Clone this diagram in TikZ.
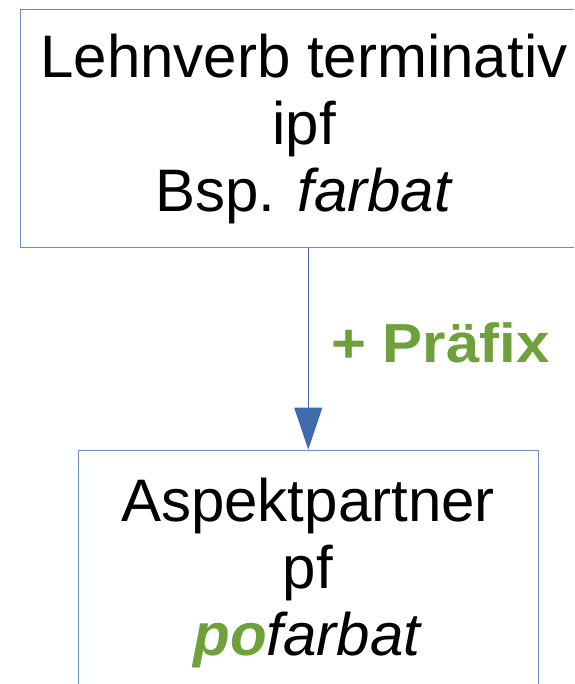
\documentclass[tikz,border=0pt]{standalone}
\usepackage{fontspec}
\setmainfont{Liberation Sans}
\usetikzlibrary{arrows.meta}
\definecolor{boxblue}{HTML}{6A8CC8}
\definecolor{arrowblue}{HTML}{3E6BAC}
\definecolor{pgreen}{HTML}{6FA03C}
\tikzset{
  boxnode/.style={draw=boxblue, line width=1pt, fill=none, inner sep=0pt},
  bigtext/.style={inner sep=0pt, anchor=base, font=\fontsize{60}{67}\selectfont},
  conn/.style={draw=arrowblue, line width=1pt, -{Triangle[width=28pt,length=42pt,fill=arrowblue]}},
  lbl/.style={inner sep=0pt, anchor=base west, text=pgreen, xscale=1.09, transform shape, font=\fontsize{55}{60}\selectfont\bfseries}
}
\begin{document}
\begin{tikzpicture}[x=1pt,y=-1pt]
\useasboundingbox (0,0) rectangle (574,684);
\clip (0,0) rectangle (574,684);
\fill[white] (0,0) rectangle (574,684);
\node[boxnode, minimum width=567.5pt, minimum height=238.5pt] (top) at (304.25,128.75) {};
\node[boxnode, minimum width=459.5pt, minimum height=260pt] (bot) at (308.25,580) {};
\node[bigtext] (t1) at (304,78) {Lehnverb terminativ};
\node[bigtext] (t2) at (304,145) {ipf};
\node[bigtext] (t3) at (304,212) {Bsp. \textit{farbat}};
\node[bigtext] (b1) at (308,521) {Aspektpartner};
\node[bigtext] (b2) at (308,588) {pf};
\node[bigtext] (b3) at (308,655) {\textcolor{pgreen}{\bfseries\itshape po}\textit{farbat}};
\draw[conn] (top.south -| bot.north) -- (bot.north);
\node[lbl] (prefix) at (331,362) {+ Präfix};
\end{tikzpicture}
\end{document}
